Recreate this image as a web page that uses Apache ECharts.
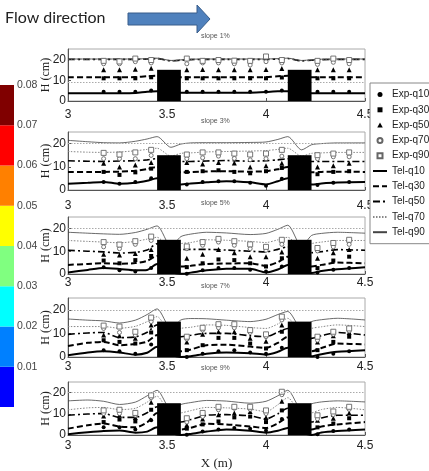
<!DOCTYPE html>
<html lang="en">
<head>
<meta charset="UTF-8">
<title>Flow depth profiles</title>
<script src="https://cdn.jsdelivr.net/npm/echarts@6/dist/echarts.min.js"></script>
<style>
  html, body { margin: 0; padding: 0; background: #fff; }
</style>
</head>
<body>
<div id="main" style="width:429px;height:471px;"></div>
<script type="text/javascript">
// ---- data ----
var SLOPES = ['slope 1%', 'slope 3%', 'slope 5%', 'slope 7%', 'slope 9%'];
var QUANT = ['q10', 'q30', 'q50', 'q70', 'q90'];

// measurement stations (m)
var EXP_X = [3.18, 3.26, 3.34, 3.42, 3.60, 3.68, 3.76, 3.84, 3.92, 4.00, 4.08, 4.26, 4.34, 4.42];
// model profile stations (m)
var TEL_X = [3.00, 3.10, 3.18, 3.26, 3.34, 3.40, 3.45, 3.52, 3.57, 3.62, 3.70, 3.80, 3.92, 4.00, 4.06, 4.11, 4.18, 4.23, 4.28, 4.36, 4.50];

// obstacles: start, end (m) and height (cm)
var BLOCK_X0 = [3.45, 4.11];
var BLOCK_X1 = [3.57, 4.23];
var BLOCK_H = 15;

// flat dotted reference level in every panel (cm)
var REF_LEVEL = [9, 20, 20, 20, 20];

// experimental depths (cm), rows = q10, q30, q50, q70, q90
var EXP_S1 = [
  [4.4, 4.4, 4.4, 5.0, 4.4, 4.4, 4.4, 4.4, 4.4, 4.4, 5.0, 4.4, 4.4, 4.4],
  [10.9, 10.9, 10.9, 11.4, 10.9, 10.9, 10.9, 10.9, 10.9, 10.9, 11.3, 10.9, 10.9, 10.9],
  [15.0, 15.0, 15.3, 15.8, 15.0, 15.2, 15.0, 15.0, 15.0, 15.2, 15.6, 15.0, 15.0, 15.0],
  [17.9, 17.9, 18.9, 18.3, 17.9, 18.3, 18.3, 17.9, 17.3, 18.9, 18.3, 17.6, 18.6, 17.9],
  [19.3, 19.0, 20.4, 19.7, 20.4, 19.3, 19.7, 19.4, 19.3, 21.4, 19.7, 19.3, 20.4, 19.7]
];
var EXP_S2 = [
  [3.4, 2.7, 3.4, 5.1, 2.4, 3.4, 3.8, 3.8, 3.1, 1.8, 4.9, 2.2, 3.1, 3.5],
  [7.8, 6.5, 7.6, 9.2, 7.8, 8.1, 8.5, 7.8, 7.2, 8.1, 9.5, 6.8, 7.8, 8.1],
  [11.5, 9.9, 10.8, 11.9, 11.9, 11.2, 11.9, 11.6, 9.9, 10.5, 11.5, 9.9, 10.5, 11.5],
  [13.5, 13.5, 13.5, 14.9, 13.5, 13.9, 14.6, 13.6, 13.0, 13.5, 14.6, 13.5, 14.3, 14.3],
  [16.0, 15.3, 16.2, 17.3, 15.3, 16.2, 16.2, 15.7, 15.3, 15.7, 17.3, 15.0, 15.7, 16.2]
];
var EXP_S3 = [
  [3.0, 1.6, 1.1, 2.6, 0.1, 1.6, 2.6, 2.6, 1.9, 1.1, 3.3, 0.7, 1.9, 2.6],
  [5.9, 4.7, 6.1, 7.9, 3.0, 4.7, 6.4, 6.1, 4.7, 3.3, 6.9, 2.6, 5.9, 7.6],
  [8.7, 8.3, 9.0, 10.7, 6.9, 8.7, 10.7, 9.3, 7.6, 7.6, 9.7, 6.9, 9.3, 10.7],
  [11.9, 11.1, 13.0, 14.7, 11.1, 12.6, 14.0, 12.6, 11.1, 10.4, 13.0, 10.1, 11.9, 13.0],
  [14.0, 12.9, 14.4, 16.4, 12.1, 14.0, 15.4, 14.4, 13.0, 11.9, 15.0, 11.4, 13.6, 15.0]
];
var EXP_S4 = [
  [2.9, 2.4, 1.4, 5.3, 0.0, 1.4, 2.4, 2.9, 1.9, 1.4, 3.9, 0.0, 1.4, 2.4],
  [7.1, 6.4, 5.7, 10.4, 2.9, 5.0, 8.1, 8.1, 5.7, 3.6, 10.7, 2.9, 6.4, 8.6],
  [9.3, 9.0, 7.9, 13.6, 6.4, 9.6, 10.7, 10.7, 7.9, 6.7, 13.6, 6.4, 9.0, 10.4],
  [12.1, 10.4, 9.3, 15.0, 7.6, 11.4, 12.4, 12.4, 10.4, 8.6, 15.7, 7.1, 9.6, 11.0],
  [13.3, 12.9, 10.7, 16.7, 8.6, 12.4, 13.9, 13.9, 11.4, 9.6, 17.1, 8.6, 10.7, 12.1]
];
var EXP_S5 = [
  [3.6, 3.6, 2.6, 6.9, 0.1, 1.6, 2.6, 3.3, 3.0, 2.1, 7.6, 0.4, 1.9, 2.6],
  [6.1, 7.3, 6.4, 11.9, 3.0, 5.0, 6.4, 8.3, 8.7, 6.1, 11.6, 3.6, 5.4, 7.9],
  [9.0, 9.3, 8.3, 15.4, 4.7, 7.6, 9.6, 10.4, 11.1, 8.3, 15.9, 6.9, 7.9, 10.4],
  [10.1, 10.1, 9.3, 17.6, 6.1, 8.7, 11.9, 12.6, 12.1, 10.1, 19.0, 7.6, 9.6, 12.1],
  [11.6, 11.9, 10.4, 18.7, 7.9, 10.4, 13.3, 13.3, 13.3, 11.6, 20.4, 9.3, 11.1, 13.3]
];

// model depths (cm) at TEL_X, rows = q10, q30, q50, q70, q90
var TEL_S1 = [
  [3.7, 3.7, 3.7, 3.7, 3.8, 4.5, 4.7, 4.5, 4.0, 4.0, 4.0, 4.0, 4.0, 4.3, 4.7, 4.7, 4.3, 3.7, 3.7, 3.7, 3.7],
  [11.4, 11.4, 11.4, 11.4, 11.5, 11.9, 12.1, 11.8, 11.4, 11.4, 11.4, 11.4, 11.4, 11.5, 11.9, 12.1, 11.8, 11.4, 11.4, 11.4, 11.4],
  [20.0, 20.0, 20.0, 20.0, 20.0, 20.2, 20.4, 19.3, 19.6, 19.9, 20.0, 20.0, 20.0, 20.0, 20.2, 20.4, 19.3, 19.6, 19.9, 20.0, 20.0],
  [20.1, 20.1, 20.1, 20.1, 20.1, 20.3, 20.5, 19.4, 19.7, 20.0, 20.1, 20.1, 20.1, 20.1, 20.3, 20.5, 19.4, 19.7, 20.0, 20.1, 20.1],
  [20.2, 20.2, 20.2, 20.2, 20.2, 20.4, 20.6, 19.5, 19.8, 20.1, 20.2, 20.2, 20.2, 20.2, 20.4, 20.6, 19.5, 19.8, 20.1, 20.2, 20.2]
];
var TEL_S2 = [
  [2.7, 3.1, 3.5, 2.7, 3.1, 4.0, 5.1, 3.0, 2.4, 2.8, 3.3, 3.8, 3.3, 2.4, 3.8, 5.1, 3.0, 2.4, 2.8, 3.2, 3.5],
  [7.8, 7.8, 7.8, 7.9, 8.3, 9.0, 9.9, 8.0, 7.6, 7.7, 8.0, 8.1, 7.9, 8.1, 8.9, 9.9, 8.0, 7.6, 7.8, 7.9, 7.8],
  [12.6, 12.4, 12.3, 12.5, 12.6, 13.0, 13.5, 12.5, 12.3, 12.3, 12.5, 12.7, 12.4, 12.6, 13.0, 13.5, 12.5, 12.3, 12.3, 12.3, 12.3],
  [16.6, 16.3, 16.2, 16.4, 16.9, 17.5, 18.0, 14.6, 15.8, 16.0, 16.4, 16.6, 16.8, 17.0, 17.5, 18.0, 14.6, 15.8, 16.0, 16.2, 16.2],
  [21.4, 20.8, 20.4, 20.3, 21.0, 22.0, 23.0, 18.4, 19.8, 20.3, 20.4, 20.4, 20.5, 20.7, 21.8, 23.0, 17.3, 19.5, 20.0, 20.3, 20.3]
];
var TEL_S3 = [
  [0.7, 1.8, 2.6, 2.2, 1.6, 1.8, 4.4, 1.0, 0.1, 0.6, 1.6, 2.3, 2.3, 0.7, 2.0, 4.0, 1.0, 0.4, 1.3, 2.1, 3.0],
  [4.0, 4.4, 4.7, 4.5, 4.8, 5.8, 7.9, 4.0, 3.3, 3.6, 4.4, 4.6, 4.7, 3.6, 5.2, 7.6, 4.0, 3.3, 4.0, 5.0, 4.7],
  [10.4, 10.0, 9.7, 9.2, 9.5, 10.5, 13.3, 10.0, 10.7, 10.8, 10.8, 10.5, 10.0, 9.7, 10.8, 11.9, 9.0, 9.3, 9.8, 10.7, 10.4],
  [14.7, 14.3, 14.0, 13.7, 14.3, 15.3, 16.1, 11.0, 13.3, 13.8, 15.0, 14.8, 14.3, 13.8, 15.0, 16.1, 11.0, 13.3, 14.0, 14.7, 14.7],
  [18.3, 17.9, 17.6, 17.4, 18.2, 19.6, 21.1, 12.0, 16.4, 17.5, 18.3, 18.0, 17.3, 17.8, 19.6, 21.4, 12.0, 16.9, 17.8, 18.3, 17.9]
];
var TEL_S4 = [
  [0.7, 1.9, 2.4, 1.9, 1.0, 1.8, 4.3, 1.0, 0.0, 0.3, 1.4, 1.9, 1.6, 1.0, 2.2, 3.9, 1.0, 0.3, 1.2, 2.2, 2.9],
  [4.7, 6.0, 6.4, 5.0, 5.5, 6.5, 9.3, 4.0, 2.4, 3.2, 5.0, 5.2, 4.4, 3.9, 6.0, 8.6, 4.0, 2.4, 3.8, 5.7, 5.3],
  [9.6, 10.2, 10.4, 8.2, 8.5, 10.5, 13.6, 9.0, 8.6, 9.2, 10.0, 10.0, 9.0, 8.6, 10.5, 12.1, 8.0, 7.9, 9.0, 10.4, 9.3],
  [12.9, 12.9, 12.9, 12.2, 13.0, 15.0, 17.1, 10.0, 12.1, 12.6, 13.6, 13.4, 12.5, 12.1, 14.0, 16.4, 10.0, 12.1, 12.8, 13.6, 12.9],
  [16.1, 15.6, 15.3, 14.4, 15.6, 18.0, 20.4, 12.0, 15.7, 16.3, 16.2, 15.6, 15.0, 16.0, 18.0, 19.3, 12.0, 15.0, 15.8, 16.4, 15.7]
];
var TEL_S5 = [
  [0.4, 1.3, 1.9, 2.1, 1.1, 1.6, 3.6, 1.0, 0.0, 0.5, 1.6, 2.6, 2.0, 1.1, 2.0, 3.3, 1.0, 0.0, 1.2, 1.9, 2.6],
  [3.0, 4.6, 5.4, 4.0, 3.6, 6.0, 10.4, 4.0, 2.6, 3.4, 5.3, 5.0, 4.0, 3.3, 5.5, 8.3, 4.0, 2.6, 4.0, 5.0, 6.1],
  [9.3, 9.9, 10.1, 8.3, 8.3, 10.5, 13.3, 8.0, 6.1, 7.3, 9.3, 9.6, 9.0, 7.6, 10.0, 12.6, 8.0, 6.1, 8.0, 9.3, 9.3],
  [11.9, 12.8, 13.0, 12.0, 12.6, 15.5, 18.3, 10.0, 10.4, 11.5, 13.0, 12.8, 12.2, 11.0, 14.3, 17.6, 10.0, 10.4, 12.0, 13.0, 11.9],
  [16.1, 16.5, 15.9, 14.4, 15.5, 18.5, 21.1, 12.0, 14.4, 15.3, 16.3, 16.0, 15.0, 15.9, 18.5, 21.1, 12.0, 14.7, 15.6, 16.1, 15.6]
];

// colour bar steps
var CB_STEP = [0.01, 0.01, 0.01, 0.01, 0.01, 0.01, 0.01, 0.01];
var CB_COLORS = ['#0000ff', '#0080ff', '#00ffff', '#80ff80', '#ffff00', '#ff8000', '#ff0000', '#800000'];

// ---- layout / styles ----
var EXP = [EXP_S1, EXP_S2, EXP_S3, EXP_S4, EXP_S5];
var TEL = [TEL_S1, TEL_S2, TEL_S3, TEL_S4, TEL_S5];
var GRID_TOP = [49, 132, 217, 298, 382];
var GRID_H = [52, 58, 57, 59, 57];
var XLABEL_MARGIN = [8, 10, 3, 4, 5];
var SLOPE_TOP = [33, 118, 200, 283, 365];

var NUM_FONT = "'Liberation Sans', Arial, sans-serif";
var SERIF = "'Liberation Serif', 'DejaVu Serif', serif";

var TEL_STYLE = [
  { color: '#000', width: 2, type: 'solid' },
  { color: '#000', width: 2, type: [6, 3] },
  { color: '#000', width: 1.6, type: [7, 3, 2, 3] },
  { color: '#888', width: 1, type: [1.5, 1.5] },
  { color: '#444', width: 0.8, type: 'solid' }
];
var SQUARE = 'path://M0,0h10v10h-10z';
var TRIANGLE = 'path://M5,0L10,9L0,9z';
var EXP_STYLE = [
  { symbol: 'circle', icon: 'circle', size: 4, fill: '#000', border: '#000' },
  { symbol: 'rect', icon: SQUARE, size: 4, fill: '#000', border: '#000' },
  { symbol: 'triangle', icon: TRIANGLE, size: 5, fill: '#000', border: '#000' },
  { symbol: 'circle', icon: 'circle', size: 4, fill: '#fff', border: '#666' },
  { symbol: 'rect', icon: SQUARE, size: 5, fill: '#fff', border: '#666' }
];

var grids = [], xAxes = [], yAxes = [], series = [], titles = [];

for (var p = 0; p < 5; p++) {
  grids.push({
    left: 68, right: 64, top: GRID_TOP[p], height: GRID_H[p],
    show: true, borderColor: '#aaa', borderWidth: 1, backgroundColor: 'transparent'
  });
  xAxes.push({
    gridIndex: p, type: 'value', min: 3, max: 4.5, interval: 0.5,
    name: p === 4 ? 'X (m)' : '', nameLocation: 'middle', nameGap: 22, nameMoveOverlap: false,
    nameTextStyle: { fontFamily: SERIF, fontSize: 13, color: '#222' },
    axisLine: { onZero: false, lineStyle: { color: '#555' } },
    axisTick: { inside: true, length: 3, lineStyle: { color: '#555' } },
    axisLabel: { fontFamily: NUM_FONT, fontSize: 12, color: '#222', margin: XLABEL_MARGIN[p] },
    splitLine: { show: false }
  });
  yAxes.push({
    gridIndex: p, type: 'value', min: 0, max: 25, interval: 10,
    name: 'H (cm)', nameLocation: 'middle', nameGap: 16, nameMoveOverlap: false,
    nameTextStyle: { fontFamily: SERIF, fontSize: 12, color: '#222' },
    axisLine: { lineStyle: { color: '#555' } },
    axisTick: { inside: true, length: 3, lineStyle: { color: '#555' } },
    axisLabel: { fontFamily: NUM_FONT, fontSize: 12, color: '#222', margin: 2, showMaxLabel: false },
    splitLine: { show: false }
  });
  titles.push({
    text: SLOPES[p], left: 201, top: SLOPE_TOP[p], padding: 0,
    textStyle: { fontSize: 7, fontWeight: 'normal', color: '#555', fontFamily: NUM_FONT }
  });

  for (var q = 0; q < 5; q++) {
    var tel = TEL[p][q];
    series.push({
      name: 'Tel-' + QUANT[q], type: 'line', xAxisIndex: p, yAxisIndex: p,
      data: TEL_X.map(function (x, j) { return [x, tel[j]]; }),
      symbol: 'none', smooth: 0.25, z: 2,
      lineStyle: { color: TEL_STYLE[q].color, width: TEL_STYLE[q].width, type: TEL_STYLE[q].type },
      itemStyle: { color: TEL_STYLE[q].color }
    });
  }
  for (var q2 = 0; q2 < 5; q2++) {
    var exp = EXP[p][q2];
    var st = EXP_STYLE[q2];
    series.push({
      name: 'Exp-' + QUANT[q2], type: 'scatter', xAxisIndex: p, yAxisIndex: p,
      data: EXP_X.map(function (x, j) { return [x, exp[j]]; }),
      symbol: st.symbol, symbolSize: st.size, z: 3,
      itemStyle: { color: st.fill, borderColor: st.border, borderWidth: st.fill === '#fff' ? 0.9 : 0, opacity: 1 }
    });
  }
  // obstacles drawn on top of the profiles
  series.push({
    type: 'custom', xAxisIndex: p, yAxisIndex: p, z: 6, silent: true,
    data: BLOCK_X0.map(function (x0, j) { return [x0, BLOCK_X1[j], BLOCK_H]; }),
    renderItem: function (params, api) {
      var a = api.coord([api.value(0), api.value(2)]);
      var b = api.coord([api.value(1), 0]);
      return { type: 'rect', shape: { x: a[0], y: a[1], width: b[0] - a[0], height: b[1] - a[1] }, style: { fill: '#000' } };
    },
    markLine: {
      silent: true, symbol: 'none', label: { show: false },
      lineStyle: { color: '#aaa', width: 1, type: [1.5, 1.5] },
      data: [{ yAxis: REF_LEVEL[p] }]
    }
  });
}

// colour bar as a stacked bar
grids.push({ left: 0, top: 85, width: 14, height: 322 });
xAxes.push({ gridIndex: 5, type: 'category', data: ['c'], show: false });
yAxes.push({
  gridIndex: 5, type: 'value', min: 0, max: 0.08, interval: 0.01, position: 'right',
  axisLine: { show: false }, axisTick: { show: false }, splitLine: { show: false },
  axisLabel: {
    margin: 3, fontSize: 10.5, color: '#444', fontFamily: NUM_FONT,
    formatter: function (v) { return v === 0 ? '' : v.toFixed(2); }
  }
});
CB_STEP.forEach(function (v, i) {
  series.push({
    type: 'bar', xAxisIndex: 5, yAxisIndex: 5, stack: 'cb', barWidth: '100%', silent: true,
    data: [v], itemStyle: { color: CB_COLORS[i] }
  });
});

var legendData = QUANT.map(function (q, i) {
  return { name: 'Exp-' + q, icon: EXP_STYLE[i].icon };
}).concat(QUANT.map(function (q) {
  return { name: 'Tel-' + q, itemStyle: { color: 'rgba(0,0,0,0)', borderWidth: 0, opacity: 0 } };
}));

var myChart = echarts.init(document.getElementById('main'), null, { renderer: 'canvas' });
var option = {
  animation: false,
  backgroundColor: '#fff',
  title: titles,
  legend: {
    data: legendData, orient: 'vertical', left: 370, top: 83,
    itemWidth: 14, itemHeight: 5, itemGap: 2.3, padding: [5, 8, 5, 2],
    borderColor: '#888', borderWidth: 1, backgroundColor: '#fff',
    textStyle: { fontFamily: NUM_FONT, fontSize: 10, color: '#222', lineHeight: 13 },
    selectedMode: false
  },
  grid: grids,
  xAxis: xAxes,
  yAxis: yAxes,
  series: series,
  graphic: [
    {
      type: 'text', left: 5, top: 10,
      style: { text: 'Flow direction', font: "16px Lato, 'Open Sans', sans-serif", fill: '#222' }
    },
    {
      type: 'polygon',
      shape: { points: [[128, 13], [197, 13], [197, 5], [210, 19], [197, 33], [197, 25], [128, 25]] },
      style: { fill: '#4f81bd', stroke: '#385d8a', lineWidth: 1 }
    }
  ]
};
myChart.setOption(option);
</script>
</body>
</html>
